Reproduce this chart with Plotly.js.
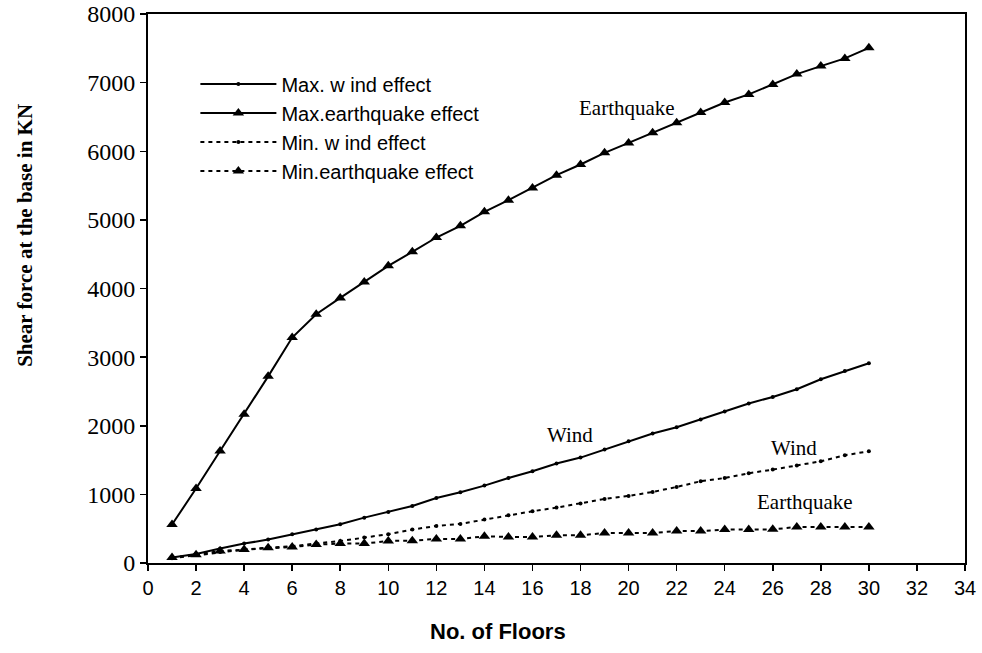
<!DOCTYPE html>
<html>
<head>
<meta charset="utf-8">
<script src="https://cdn.plot.ly/plotly-3.0.1.min.js"></script>
<style>html,body{margin:0;padding:0;background:#fff;}#chart{width:982px;height:653px;}</style>
</head>
<body>
<div id="chart"></div>
<script>
var floors = [1,2,3,4,5,6,7,8,9,10,11,12,13,14,15,16,17,18,19,20,21,22,23,24,25,26,27,28,29,30];
var maxWind = [80,131,210,283,341,418,487,564,661,744,831,948,1031,1128,1239,1337,1449,1536,1653,1774,1886,1978,2090,2207,2324,2420,2532,2678,2799,2911];
var maxEq = [560,1085,1633,2168,2720,3285,3625,3863,4096,4330,4534,4743,4913,5117,5287,5465,5652,5807,5977,6122,6268,6414,6565,6711,6828,6974,7124,7241,7353,7507];
var minWind = [70,115,160,195,225,245,285,320,370,420,487,540,570,633,695,754,807,866,933,977,1035,1108,1191,1239,1308,1361,1420,1482,1570,1628];
var minEq = [80,122,175,195,224,233,268,283,283,321,326,350,350,389,379,379,404,404,437,437,437,466,466,487,487,490,525,525,525,525];
var seriesNames = ["Max. w ind effect", "Max.earthquake effect", "Min. w ind effect", "Min.earthquake effect"];
var xTitle = "No. of Floors";
var yTitle = "Shear force at the base in KN";

var sans = "Liberation Sans, Arial, sans-serif";
var serif = "Liberation Serif, Times New Roman, serif";

function tr(y, name, dash, symbol, size) {
  return {
    x: floors, y: y, name: name, type: 'scatter', mode: 'lines+markers',
    line: {color: '#000', width: 2, dash: dash},
    marker: {color: '#000', symbol: symbol, size: size}
  };
}

var data = [
  tr(maxWind, seriesNames[0], 'solid', 'circle', 4),
  tr(maxEq, seriesNames[1], 'solid', 'triangle-up', 10),
  tr(minWind, seriesNames[2], '4px,4px', 'circle', 4),
  tr(minEq, seriesNames[3], '4px,4px', 'triangle-up', 10)
];

var annFont = {family: serif, size: 21, color: '#000'};
var layout = {
  width: 982, height: 653,
  margin: {l: 147.5, r: 16.5, t: 13.7, b: 90.3},
  paper_bgcolor: '#fff', plot_bgcolor: '#fff',
  showlegend: true,
  legend: {
    x: 0.058, xanchor: 'left', y: 0.908, yanchor: 'top',
    bgcolor: 'rgba(0,0,0,0)', borderwidth: 0,
    font: {family: sans, size: 20, color: '#000'},
    itemwidth: 76, traceorder: 'normal'
  },
  xaxis: {
    range: [0, 34], dtick: 2, tick0: 0, tickmode: 'linear',
    showgrid: false, zeroline: false,
    showline: true, linecolor: '#000', linewidth: 2, mirror: true,
    ticks: 'outside', ticklen: 6, tickwidth: 1.5, tickcolor: '#000',
    tickfont: {family: sans, size: 20, color: '#000'}
  },
  yaxis: {
    range: [0, 8000], dtick: 1000, tick0: 0, tickmode: 'linear',
    showgrid: false, zeroline: false,
    showline: true, linecolor: '#000', linewidth: 2, mirror: true,
    ticks: 'outside', ticklen: 6, tickwidth: 1.5, tickcolor: '#000',
    tickfont: {family: serif, size: 24, color: '#000'}
  },
  annotations: [
    {x: 19.93, y: 6628, xref: 'x', yref: 'y', text: 'Earthquake', showarrow: false, font: annFont},
    {x: 17.56, y: 1862, xref: 'x', yref: 'y', text: 'Wind', showarrow: false, font: annFont},
    {x: 26.87, y: 1672, xref: 'x', yref: 'y', text: 'Wind', showarrow: false, font: annFont},
    {x: 27.33, y: 885, xref: 'x', yref: 'y', text: 'Earthquake', showarrow: false, font: annFont},
    {x: 0.4285, y: -0.152, xref: 'paper', yref: 'paper', text: '<b>' + xTitle + '</b>', showarrow: false,
     font: {family: sans, size: 22, color: '#000'}},
    {x: -0.167, y: 0.597, xref: 'paper', yref: 'paper', text: '<b>' + yTitle + '</b>', showarrow: false, textangle: -90,
     font: {family: serif, size: 21, color: '#000'}}
  ]
};

Plotly.newPlot('chart', data, layout, {displayModeBar: false, staticPlot: true});
</script>
</body>
</html>
